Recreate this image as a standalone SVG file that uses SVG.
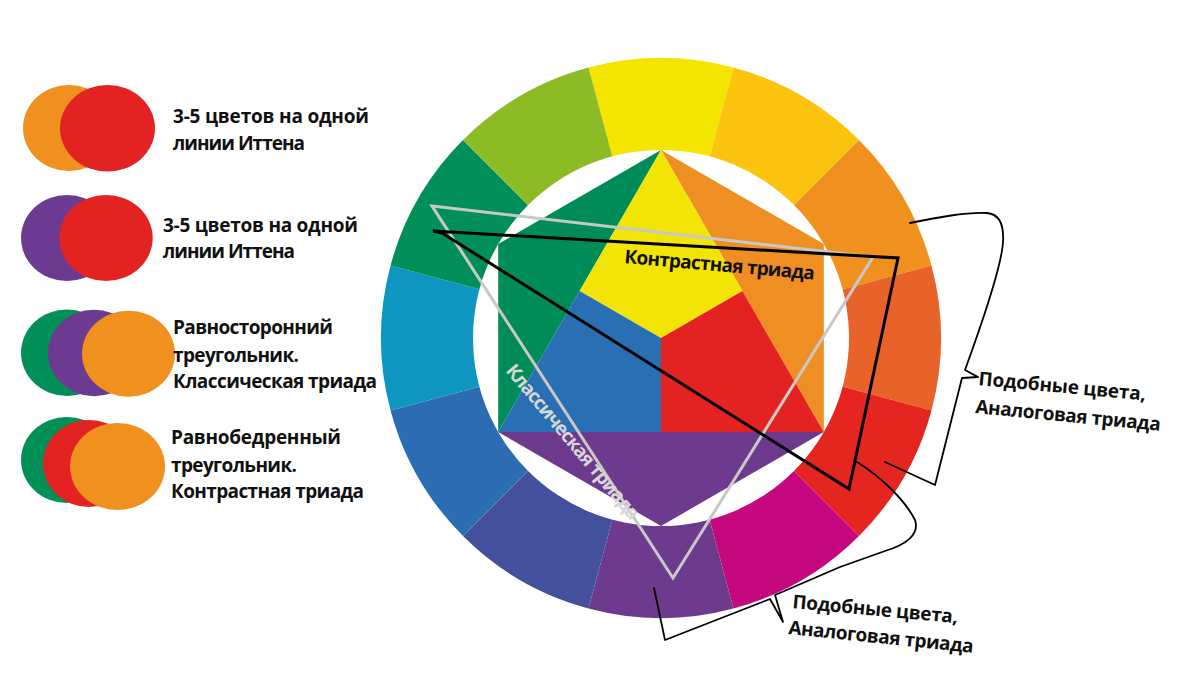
<svg xmlns="http://www.w3.org/2000/svg" width="1200" height="675" viewBox="0 0 1200 675">
<style>
.t{font-family:"Open Sans","Liberation Sans",sans-serif;font-weight:700;font-size:19px;fill:#111}
.br{fill:none;stroke:#000;stroke-width:1.8;stroke-linejoin:round;stroke-linecap:round}
.tri{fill:none;stroke-width:3;stroke-linejoin:miter}
</style>
<rect width="1200" height="675" fill="#fff"/>
<g id="legend-1">
<ellipse cx="69" cy="128" rx="46" ry="43" fill="#F0901F"/>
<ellipse cx="107.5" cy="128.3" rx="47.5" ry="43.3" fill="#E32322"/>
<text class="t" x="173" y="123" textLength="196">3-5 цветов на одной</text>
<text class="t" x="173" y="150" textLength="132">линии Иттена</text>
</g>
<g id="legend-2">
<ellipse cx="67" cy="238" rx="46" ry="43" fill="#6C3A90"/>
<ellipse cx="106" cy="238" rx="46.7" ry="43" fill="#E32322"/>
<text class="t" x="163" y="232" textLength="195">3-5 цветов на одной</text>
<text class="t" x="163" y="258" textLength="132">линии Иттена</text>
</g>
<g id="legend-3">
<ellipse cx="67" cy="352.7" rx="46" ry="43.3" fill="#009058"/>
<ellipse cx="94" cy="353" rx="46" ry="43.3" fill="#6C3A90"/>
<ellipse cx="128.5" cy="353.7" rx="46.5" ry="43" fill="#F0901F"/>
<text class="t" x="173" y="334" textLength="160">Равносторонний</text>
<text class="t" x="173" y="362" textLength="126">треугольник.</text>
<text class="t" x="173" y="388" textLength="204">Классическая триада</text>
</g>
<g id="legend-4">
<ellipse cx="67" cy="460" rx="46" ry="43" fill="#009058"/>
<ellipse cx="89" cy="463.5" rx="46" ry="43.5" fill="#E32322"/>
<ellipse cx="117.5" cy="466.5" rx="47.5" ry="43.5" fill="#F0901F"/>
<text class="t" x="171" y="444" textLength="170">Равнобедренный</text>
<text class="t" x="171" y="472" textLength="126">треугольник.</text>
<text class="t" x="171" y="498" textLength="193">Контрастная триада</text>
</g>
<g id="color-wheel">
<path d="M661,338 L588.53,67.54 A280,280 0 0,1 733.47,67.54 Z" fill="#F3E500"/>
<path d="M661,338 L733.47,67.54 A280,280 0 0,1 858.99,140.01 Z" fill="#FCC40F"/>
<path d="M661,338 L858.99,140.01 A280,280 0 0,1 931.46,265.53 Z" fill="#F0901F"/>
<path d="M661,338 L931.46,265.53 A280,280 0 0,1 931.46,410.47 Z" fill="#E8632A"/>
<path d="M661,338 L931.46,410.47 A280,280 0 0,1 858.99,535.99 Z" fill="#E42520"/>
<path d="M661,338 L858.99,535.99 A280,280 0 0,1 733.47,608.46 Z" fill="#C5087E"/>
<path d="M661,338 L733.47,608.46 A280,280 0 0,1 588.53,608.46 Z" fill="#6E3A8E"/>
<path d="M661,338 L588.53,608.46 A280,280 0 0,1 463.01,535.99 Z" fill="#44509B"/>
<path d="M661,338 L463.01,535.99 A280,280 0 0,1 390.54,410.47 Z" fill="#2B6CB3"/>
<path d="M661,338 L390.54,410.47 A280,280 0 0,1 390.54,265.53 Z" fill="#0F96C0"/>
<path d="M661,338 L390.54,265.53 A280,280 0 0,1 463.01,140.01 Z" fill="#008F59"/>
<path d="M661,338 L463.01,140.01 A280,280 0 0,1 588.53,67.54 Z" fill="#8CBB26"/>
<circle cx="661" cy="338" r="188" fill="#fff"/>
</g>
<g id="hexagon">
<polygon points="661,150 498.2,244 498.2,432" fill="#008C58"/>
<polygon points="661,150 823.8,244 823.8,432" fill="#EF8E22"/>
<polygon points="498.2,432 823.8,432 661,526" fill="#6E3A8E"/>
<polygon points="661,150 742.4,291 661,338 579.6,291" fill="#F2E404"/>
<polygon points="579.6,291 661,338 661,432 498.2,432" fill="#2A6FB3"/>
<polygon points="742.4,291 823.8,432 661,432 661,338" fill="#E32322"/>
</g>
<g id="connectors">
<polygon class="tri" points="432,206 873,257 673,578" stroke="#C8C8C8"/>
<path class="tri" d="M442,233 L849,489 L898,258 L433,231 Z" stroke="#000"/>
<path class="br" d="M910,223 C935,218 965,212 987,213 C1000,214 1004,225 1003,242 C1002,262 985,315 965,370 L978,377 L962,378 L935,485 L885,462"/>
<path class="br" d="M857,462 C880,476 905,500 915,520 C920,535 905,545 885,551 L840,567 L775,595 L783,622 L770,599 L665,640 L654,588"/>
</g>
<g id="label-contrast">
<text class="t" x="624" y="263" textLength="191" transform="rotate(5 624 263)" fill="#000">Контрастная триада</text>
</g>
<g id="label-classic">
<text class="t" x="568" y="446" text-anchor="middle" textLength="196" transform="rotate(50 568 446)" style="fill:#D6D6D6">Классическая триада</text>
</g>
<g id="label-analog-right">
<text class="t" x="978" y="385" textLength="168" transform="rotate(5.3 978 385)">Подобные цвета,</text>
<text class="t" x="975" y="413" textLength="186" transform="rotate(5.5 975 413)">Аналоговая триада</text>
</g>
<g id="label-analog-bottom">
<text class="t" x="792" y="608" textLength="166" transform="rotate(5.3 792 608)">Подобные цвета,</text>
<text class="t" x="788" y="634" textLength="186" transform="rotate(5.8 788 634)">Аналоговая триада</text>
</g>
</svg>
